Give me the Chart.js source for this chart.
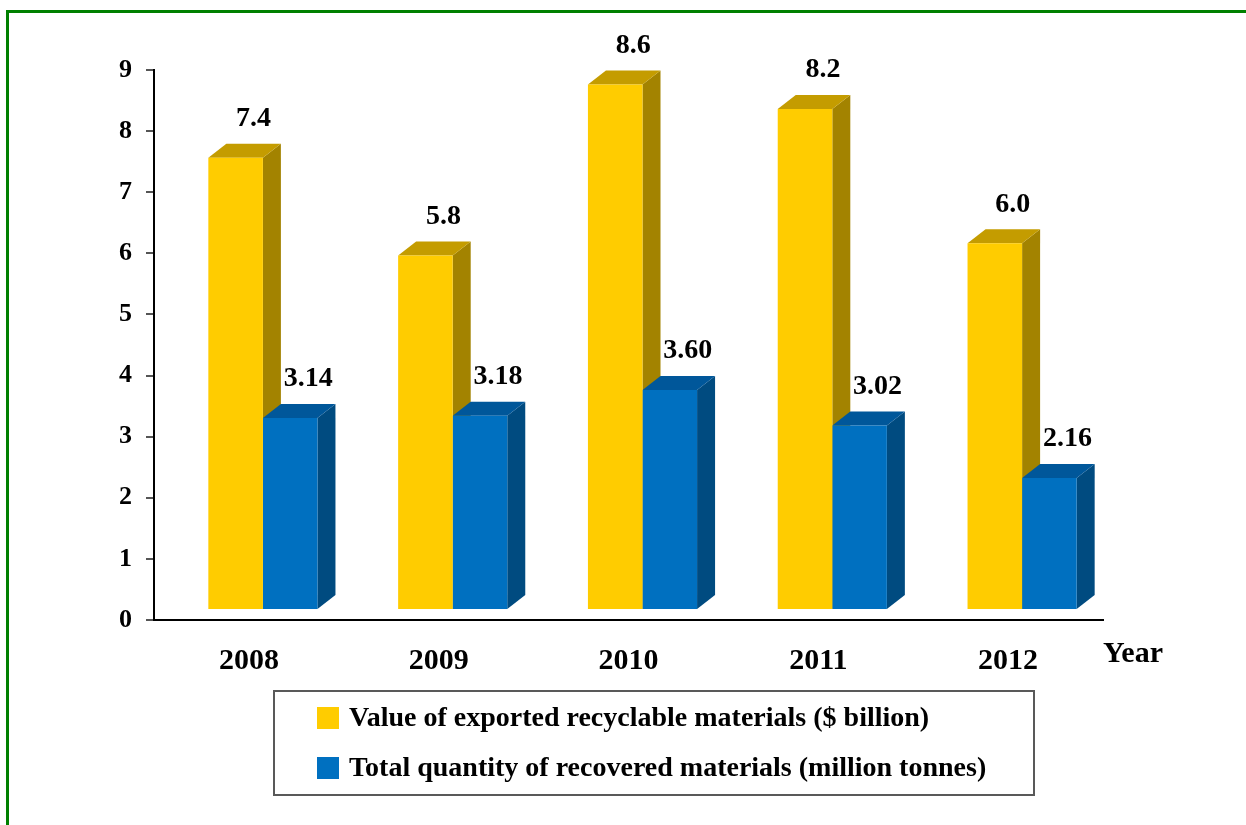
<!DOCTYPE html>
<html>
<head>
<meta charset="utf-8">
<script src="https://cdn.jsdelivr.net/npm/chart.js@4/dist/chart.umd.min.js"></script>
<style>
  html, body { margin: 0; padding: 0; background: #fff; overflow: hidden; }
  #wrap { position: relative; width: 1246px; height: 825px; }
  #frame {
    position: absolute; left: 6px; top: 10px; width: 1400px; height: 1000px;
    border-left: 3px solid #008000; border-top: 3px solid #008000;
    pointer-events: none;
  }
  canvas { position: absolute; left: 0; top: 0; }
</style>
</head>
<body>
<div id="wrap">
  <canvas id="recyclingChart" width="1246" height="825"></canvas>
  <div id="frame"></div>
</div>
<script>
// Data
const years = ["2008", "2009", "2010", "2011", "2012"];
const exportValue = [7.4, 5.8, 8.6, 8.2, 6.0];
const recoveredQty = [3.14, 3.18, 3.60, 3.02, 2.16];
const valueLabels = ["7.4", "5.8", "8.6", "8.2", "6.0"];
const qtyLabels = ["3.14", "3.18", "3.60", "3.02", "2.16"];

const FONT = "'Liberation Serif', 'Times New Roman', serif";

// 3D look: bars sit back on the floor, with a side and top face
const FLOOR_DX = 14;
const FLOOR_DY = -10;
const DEPTH_X = 18;
const DEPTH_Y = 14;

const faceColors = [
  { side: "#A38300", top: "#C49C00" },
  { side: "#004B80", top: "#00579A" },
];
const pointLabels = [valueLabels, qtyLabels];

const bars3d = {
  id: "bars3d",
  beforeDatasetsDraw(chart) {
    const ctx = chart.ctx;
    ctx.save();
    ctx.translate(FLOOR_DX, FLOOR_DY);
    chart.data.datasets.forEach((ds, di) => {
      chart.getDatasetMeta(di).data.forEach((bar) => {
        const { x, y, base, width } = bar.getProps(["x", "y", "base", "width"], true);
        const l = x - width / 2, r = x + width / 2;
        // side face
        ctx.fillStyle = faceColors[di].side;
        ctx.beginPath();
        ctx.moveTo(r, y);
        ctx.lineTo(r + DEPTH_X, y - DEPTH_Y);
        ctx.lineTo(r + DEPTH_X, base - DEPTH_Y);
        ctx.lineTo(r, base);
        ctx.closePath();
        ctx.fill();
        // top face
        ctx.fillStyle = faceColors[di].top;
        ctx.beginPath();
        ctx.moveTo(l, y);
        ctx.lineTo(l + DEPTH_X, y - DEPTH_Y);
        ctx.lineTo(r + DEPTH_X, y - DEPTH_Y);
        ctx.lineTo(r, y);
        ctx.closePath();
        ctx.fill();
      });
    });
  },
  afterDatasetsDraw(chart) {
    const ctx = chart.ctx;
    // value labels above each bar
    ctx.fillStyle = "#000";
    ctx.font = "bold 28px " + FONT;
    ctx.textAlign = "center";
    ctx.textBaseline = "middle";
    chart.data.datasets.forEach((ds, di) => {
      chart.getDatasetMeta(di).data.forEach((bar, i) => {
        const { x, y } = bar.getProps(["x", "y"], true);
        ctx.fillText(pointLabels[di][i], x + 18, y - 39);
      });
    });
    ctx.restore();
  },
  afterDraw(chart) {
    const ctx = chart.ctx;
    const area = chart.chartArea;
    ctx.save();
    // axis name at the end of the category axis
    ctx.fillStyle = "#000";
    ctx.font = "bold 30px " + FONT;
    ctx.textAlign = "left";
    ctx.textBaseline = "middle";
    ctx.fillText("Year", area.right, 654);

    // boxed legend
    ctx.strokeStyle = "#595959";
    ctx.lineWidth = 2;
    ctx.strokeRect(274, 691, 760, 104);
    ctx.font = "bold 28px " + FONT;
    chart.data.datasets.forEach((ds, di) => {
      const cy = 718 + di * 50;
      ctx.fillStyle = ds.backgroundColor;
      ctx.fillRect(317, cy - 11, 22, 22);
      ctx.fillStyle = "#000";
      ctx.fillText(ds.label, 349, cy + 1);
    });
    ctx.restore();
  },
};

new Chart(document.getElementById("recyclingChart"), {
  type: "bar",
  data: {
    labels: years,
    datasets: [
      {
        label: "Value of exported recyclable materials ($ billion)",
        data: exportValue,
        backgroundColor: "#FFCC00",
        categoryPercentage: 0.575,
        barPercentage: 1.0,
        clip: false,
      },
      {
        label: "Total quantity of recovered materials (million tonnes)",
        data: recoveredQty,
        backgroundColor: "#0070C0",
        categoryPercentage: 0.575,
        barPercentage: 1.0,
        clip: false,
      },
    ],
  },
  options: {
    responsive: false,
    animation: false,
    layout: { padding: { top: 70, right: 143, left: 0, bottom: 0 } },
    plugins: {
      legend: { display: false },
      tooltip: { enabled: false },
    },
    scales: {
      x: {
        grid: { display: false },
        border: { display: true, color: "#000", width: 2 },
        ticks: {
          color: "#000",
          font: { family: FONT, size: 30, weight: "bold" },
          padding: 15,
        },
        afterFit(scale) { scale.height = 205; },
      },
      y: {
        min: 0,
        max: 9,
        grid: {
          drawOnChartArea: false,
          drawTicks: true,
          tickLength: 8,
          color: "#555",
          lineWidth: 2,
        },
        border: { display: true, color: "#000", width: 2 },
        ticks: {
          stepSize: 1,
          color: "#000",
          font: { family: FONT, size: 26, weight: "bold" },
          padding: 14,
        },
        afterFit(scale) { scale.width = 154; },
      },
    },
  },
  plugins: [bars3d],
});
</script>
</body>
</html>
